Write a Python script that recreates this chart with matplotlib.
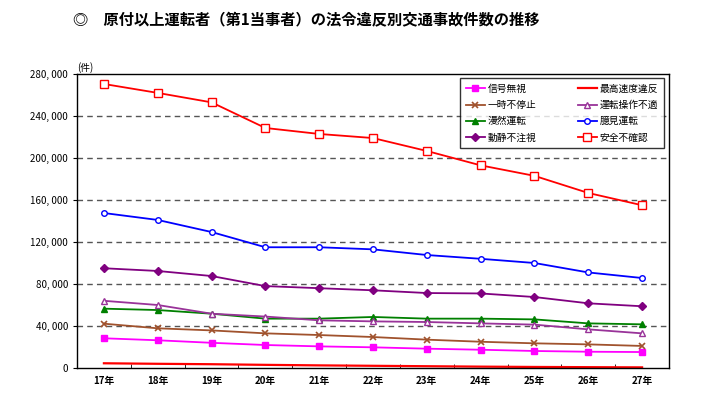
import numpy as np
import matplotlib
matplotlib.use('Agg')
from matplotlib import pyplot as plt
from matplotlib.ticker import FuncFormatter

plt.rcParams['font.family'] = ['Noto Sans CJK JP', 'DejaVu Sans']

years = ['17年', '18年', '19年', '20年', '21年', '22年', '23年', '24年', '25年', '26年', '27年']

# counts (件)
shingou_mushi = [28300, 26400, 24000, 21900, 20600, 19700, 18400, 17400, 16200, 15500, 15200]
saikou_sokudo = [4500, 4000, 3600, 3000, 2500, 2100, 1700, 1300, 1000, 800, 600]
ichiji_futeishi = [42200, 37800, 35800, 33000, 31400, 29500, 27000, 25000, 23500, 22500, 21000]
unten_sousa = [64000, 60000, 51700, 49000, 45400, 44400, 43800, 42500, 41300, 36800, 33000]
manzen_unten = [56500, 55200, 51700, 47000, 47000, 48600, 47000, 47000, 46300, 42500, 41600]
okken_unten = [147600, 141000, 129500, 115000, 115000, 113000, 107600, 104000, 100000, 91000, 85700]
dousei_fuchuushi = [95000, 92400, 87600, 78000, 76000, 74000, 71400, 71000, 67600, 61600, 58800]
anzen_fukakunin = [270500, 262000, 253000, 228600, 222900, 219000, 206700, 193000, 183000, 166700, 155000]

fig = plt.figure(figsize=(7.1, 3.94), dpi=100)
ax = fig.add_axes([77/710, 1 - 368/394, 592/710, 294/394])

x = np.arange(len(years))
ms = 4
lw = 1.3

h_shingou, = ax.plot(x, shingou_mushi, color='#FF00FF', marker='s', ms=ms, lw=lw, label='信号無視')
h_ichiji, = ax.plot(x, ichiji_futeishi, color='#A0522D', marker='x', ms=ms + 1, mew=1.2, lw=lw, label='一時不停止')
h_manzen, = ax.plot(x, manzen_unten, color='#008000', marker='^', ms=ms, lw=lw, label='漫然運転')
h_dousei, = ax.plot(x, dousei_fuchuushi, color='#800080', marker='D', ms=ms, lw=lw, label='動静不注視')
h_saikou, = ax.plot(x, saikou_sokudo, color='#FF0000', lw=lw + 0.3, label='最高速度違反')
h_unten, = ax.plot(x, unten_sousa, color='#993399', marker='^', ms=ms + 0.5, mfc='white', lw=lw, label='運転操作不適')
h_okken, = ax.plot(x, okken_unten, color='#0000FF', marker='o', ms=ms, mfc='white', lw=lw, label='臆見運転')
h_anzen, = ax.plot(x, anzen_fukakunin, color='#FF0000', marker='s', ms=ms + 2, mfc='white', lw=lw, label='安全不確認')

ax.set_xlim(-0.5, len(years) - 0.5)
ax.set_ylim(0, 280000)
ax.set_yticks(np.arange(0, 280001, 40000))
ax.yaxis.set_major_formatter(FuncFormatter(lambda v, p: '0' if v == 0 else f'{int(v):,}'.replace(',', ', ')))
ax.tick_params(axis='y', labelsize=7, length=3, direction='out')

ax.set_xticks(x)
ax.set_xticklabels(years, fontsize=7, fontweight='bold')
ax.set_xticks(np.arange(-0.5, len(years)), minor=True)
ax.tick_params(axis='x', which='major', length=0, pad=6)
ax.tick_params(axis='x', which='minor', length=3, direction='in')

for v in range(40000, 280000, 40000):
  ax.axhline(v, color='#555555', lw=1.0, ls=(0, (4, 3)), zorder=0)

for s in ax.spines.values():
  s.set_color('black')
  s.set_linewidth(1.0)

ax.text(0.0, 1.005, '(件)', transform=ax.transAxes, fontsize=7, va='bottom', ha='left')

handles = [h_shingou, h_ichiji, h_manzen, h_dousei, h_saikou, h_unten, h_okken, h_anzen]
leg = ax.legend(handles=handles, ncol=2, fontsize=7, loc='upper right',
                bbox_to_anchor=(0.997, 0.997), frameon=True, fancybox=False,
                edgecolor='black', borderpad=0.6, labelspacing=0.65,
                columnspacing=4.2, handlelength=2.0, handletextpad=0.3,
                borderaxespad=0.3)
leg.get_frame().set_linewidth(1.0)

fig.text(73/710, 1 - 19/394, '◎　原付以上運転者（第1当事者）の法令違反別交通事故件数の推移',
         fontsize=11, fontweight='bold', va='center', ha='left')

fig.savefig('out.png', dpi=100)
